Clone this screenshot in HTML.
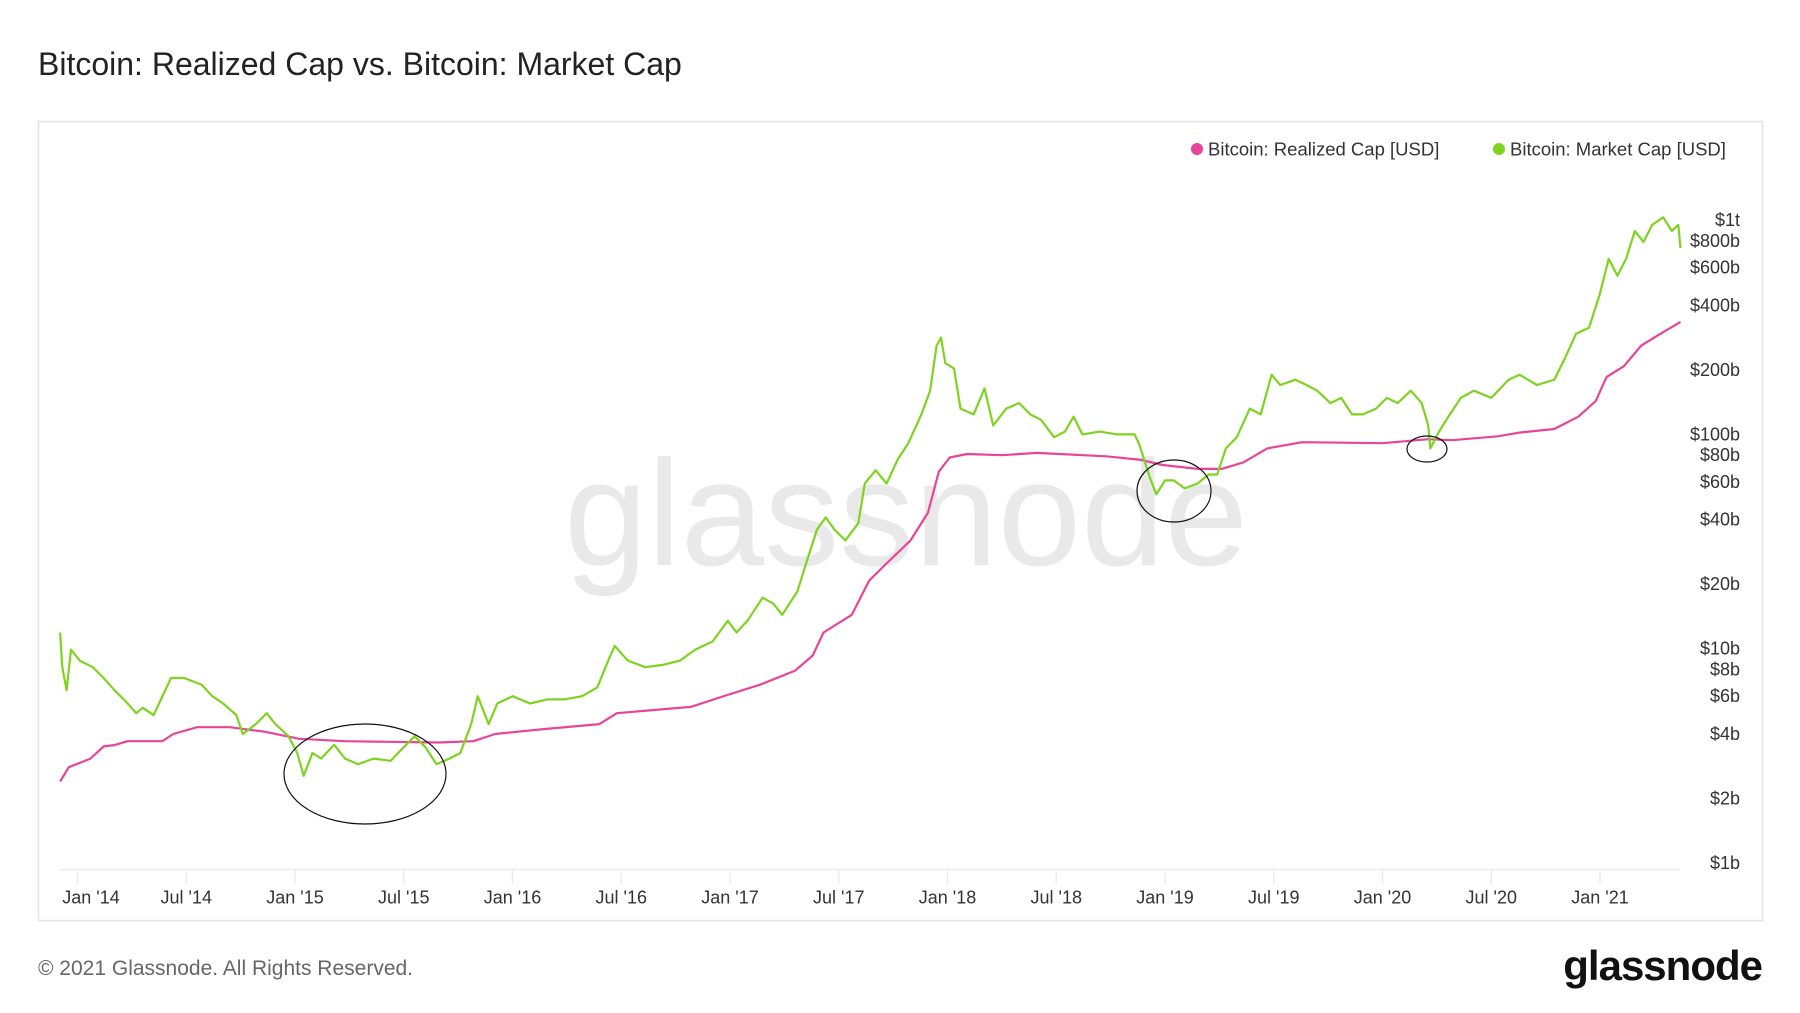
<!DOCTYPE html>
<html><head><meta charset="utf-8"><style>
body{margin:0;background:#fff;font-family:"Liberation Sans",sans-serif;}
#wrap{position:relative;width:1800px;height:1013px;overflow:hidden;}
</style></head><body>
<div id="wrap">
<svg id="chart" width="1800" height="1013" viewBox="0 0 1800 1013">
<text x="38" y="75" font-size="32" fill="#222" font-family="Liberation Sans, sans-serif">Bitcoin: Realized Cap vs. Bitcoin: Market Cap</text>
<rect x="38.5" y="121.5" width="1724" height="799" fill="#fff" stroke="#e2e2e2" stroke-width="1.5"/>
<text x="906" y="565" font-size="150" fill="#e9e9e9" text-anchor="middle" font-family="Liberation Sans, sans-serif">glassnode</text>
<g>
<g><circle cx="1197" cy="149" r="6" fill="#e8449a"/><text x="1208" y="155.5" font-size="18.5" fill="#333">Bitcoin: Realized Cap [USD]</text></g>
<g><circle cx="1499" cy="149" r="6" fill="#7ed321"/><text x="1510" y="155.5" font-size="18.5" fill="#333">Bitcoin: Market Cap [USD]</text></g>
</g>
<g id="xaxis"></g>
<g id="yaxis"></g>
<g id="series"></g>
<g fill="none" stroke="#111" stroke-width="1.2">
<ellipse cx="365" cy="774" rx="81" ry="50"/>
<ellipse cx="1174" cy="491" rx="37" ry="31"/>
<ellipse cx="1427" cy="449" rx="20" ry="13"/>
</g>
<text x="38" y="975" font-size="21" fill="#666">© 2021 Glassnode. All Rights Reserved.</text>
<text x="1762" y="980" font-size="42" fill="#111" text-anchor="end" font-weight="bold" letter-spacing="-1">glassnode</text>
</svg>
</div>
<script>
const xTickLabels = ["Jan '14","Jul '14","Jan '15","Jul '15","Jan '16","Jul '16","Jan '17","Jul '17","Jan '18","Jul '18","Jan '19","Jul '19","Jan '20","Jul '20","Jan '21"];
const xTickYears = [2014,2014.5,2015,2015.5,2016,2016.5,2017,2017.5,2018,2018.5,2019,2019.5,2020,2020.5,2021];
const yTickValues = [1,2,4,6,8,10,20,40,60,80,100,200,400,600,800,1000];
const yTickLabels = ["$1b","$2b","$4b","$6b","$8b","$10b","$20b","$40b","$60b","$80b","$100b","$200b","$400b","$600b","$800b","$1t"];
const realizedYears = [2013.92,2013.96,2014.06,2014.12,2014.17,2014.23,2014.39,2014.44,2014.55,2014.70,2014.86,2015.02,2015.23,2015.66,2015.82,2015.92,2016.13,2016.40,2016.48,2016.82,2016.98,2017.14,2017.30,2017.38,2017.43,2017.56,2017.64,2017.72,2017.83,2017.91,2017.96,2018.01,2018.09,2018.25,2018.41,2018.73,2018.89,2018.99,2019.15,2019.26,2019.36,2019.47,2019.63,2020.00,2020.21,2020.32,2020.53,2020.63,2020.79,2020.90,2020.98,2021.03,2021.11,2021.19,2021.29,2021.37];
const realizedCap = [2.4,2.8,3.07,3.5,3.55,3.7,3.7,4.0,4.3,4.3,4.1,3.8,3.7,3.65,3.7,4.0,4.2,4.45,5.0,5.35,6.05,6.8,7.9,9.3,11.9,14.4,20.8,25,32,43,67,78,81,80,82,79,76,72,69,69,74,86,92,91,95,94,98,102,106,121,143,185,208,260,300,335];
const marketYears = [2013.92,2013.93,2013.95,2013.97,2014.01,2014.07,2014.12,2014.17,2014.22,2014.27,2014.30,2014.35,2014.38,2014.43,2014.49,2014.57,2014.62,2014.67,2014.73,2014.76,2014.82,2014.87,2014.91,2014.97,2015.01,2015.04,2015.08,2015.12,2015.18,2015.23,2015.29,2015.36,2015.44,2015.49,2015.55,2015.60,2015.65,2015.71,2015.76,2015.81,2015.84,2015.89,2015.93,2016.00,2016.08,2016.16,2016.24,2016.32,2016.39,2016.44,2016.47,2016.53,2016.61,2016.69,2016.77,2016.84,2016.92,2016.99,2017.03,2017.08,2017.15,2017.20,2017.24,2017.31,2017.35,2017.40,2017.44,2017.48,2017.53,2017.59,2017.62,2017.67,2017.72,2017.77,2017.82,2017.88,2017.92,2017.95,2017.97,2017.99,2018.03,2018.06,2018.12,2018.17,2018.21,2018.27,2018.33,2018.38,2018.43,2018.49,2018.54,2018.58,2018.62,2018.70,2018.78,2018.86,2018.88,2018.93,2018.96,2019.00,2019.04,2019.09,2019.15,2019.20,2019.24,2019.28,2019.33,2019.39,2019.44,2019.49,2019.53,2019.60,2019.65,2019.70,2019.76,2019.81,2019.86,2019.91,2019.97,2020.02,2020.07,2020.13,2020.18,2020.21,2020.22,2020.26,2020.31,2020.36,2020.42,2020.50,2020.58,2020.63,2020.71,2020.79,2020.84,2020.89,2020.95,2021.00,2021.04,2021.08,2021.12,2021.16,2021.20,2021.24,2021.29,2021.33,2021.36,2021.37];
const marketCap = [11.9,8.2,6.4,9.9,8.8,8.2,7.3,6.4,5.7,5.0,5.3,4.9,5.7,7.3,7.3,6.8,6.0,5.55,4.9,4.0,4.45,5.0,4.45,3.9,3.26,2.55,3.26,3.07,3.56,3.07,2.89,3.07,3.0,3.39,3.9,3.47,2.89,3.07,3.26,4.45,6.0,4.45,5.55,6.0,5.55,5.8,5.8,6.0,6.6,8.8,10.3,8.8,8.2,8.4,8.8,9.9,10.8,13.5,11.9,13.5,17.3,16.2,14.4,18.5,25,36,41,36,32,38.5,59,68,59,76,91,124,160,260,283,215,203,132,124,164,110,132,140,124,117,97,103,121,100,103,100,100,91,63,52.5,61,61,56,59,65,65,86,97,132,124,190,170,180,170,160,140,148,124,124,132,148,140,160,140,110,86,103,124,148,160,148,180,190,170,180,228,295,315,455,660,550,660,890,790,950,1030,890,950,740];

const NS='http://www.w3.org/2000/svg';
function xScale(yr){return 77.5+(yr-2014)*217.5;}
function yScale(v){return 863-Math.log10(v)*214.3;}
function mk(tag,attrs,parent){const e=document.createElementNS(NS,tag);for(const k in attrs)e.setAttribute(k,attrs[k]);parent.appendChild(e);return e;}

const xg=document.getElementById('xaxis');
const base=mk('line',{x1:60,x2:1680,y1:869.5,y2:869.5,stroke:'#ececec','stroke-width':1.5},xg);


xTickYears.forEach((yr,i)=>{
  const x=xScale(yr);
  const t=mk('line',{x1:x,x2:x,y1:869,y2:884,stroke:'#ececec','stroke-width':1.5},xg);
  
  
  const lx=Math.max(x,91);
  const l=mk('text',{x:lx,y:903.5,'font-size':18,fill:'#333','text-anchor':'middle'},xg);
  l.textContent=xTickLabels[i];
  
  
});
const yg=document.getElementById('yaxis');
yTickValues.forEach((v,i)=>{
  const l=mk('text',{x:1740,y:yScale(v)+6,'font-size':18,fill:'#333','text-anchor':'end'},yg);
  l.textContent=yTickLabels[i];
  
  
});
const sg=document.getElementById('series');
function path(xs,vs){return xs.map((yr,i)=>(i?'L':'M')+xScale(yr).toFixed(1)+','+yScale(vs[i]).toFixed(1)).join('');}
const rp=mk('path',{d:path(realizedYears,realizedCap),fill:'none',stroke:'#e8449a','stroke-width':2.2,'stroke-linejoin':'round'},sg);


const mp=mk('path',{d:path(marketYears,marketCap),fill:'none',stroke:'#7ed321','stroke-width':2.2,'stroke-linejoin':'round'},sg);


</script>
</body></html>
